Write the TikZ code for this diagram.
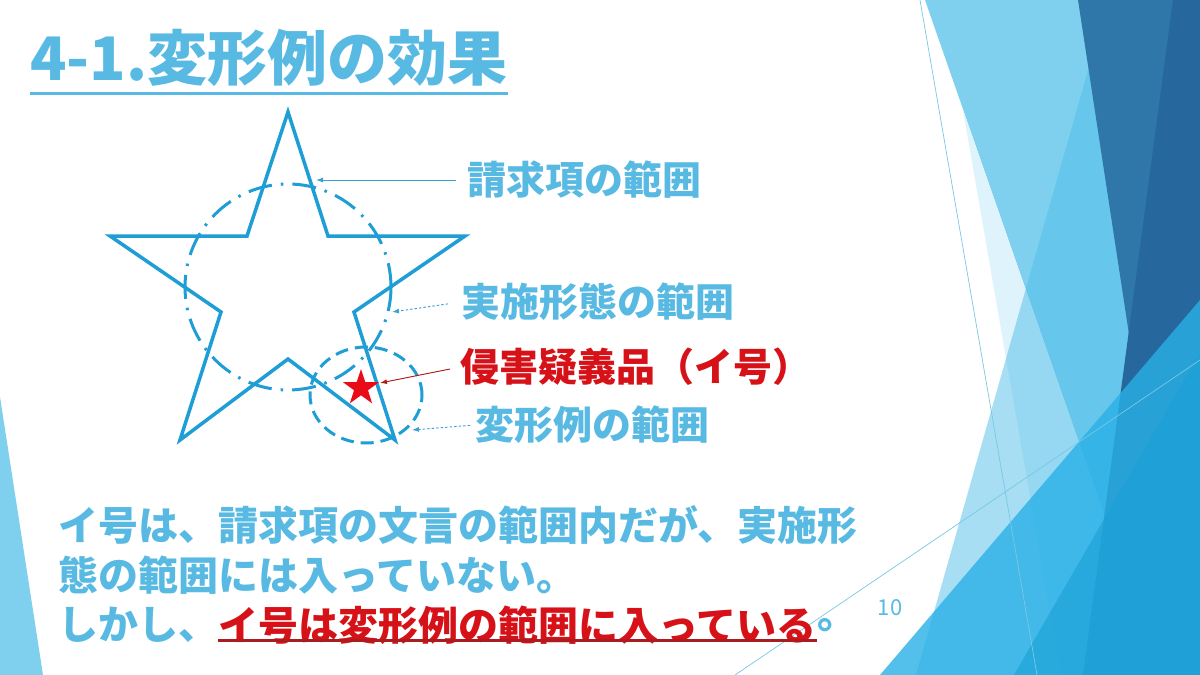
\documentclass[tikz,border=0pt]{standalone}
\usepackage{fontspec}
\setmainfont{Noto Sans CJK JP}
\usetikzlibrary{positioning,calc,arrows.meta,shapes.geometric}

\definecolor{skyText}{RGB}{88,186,226}
\definecolor{starBlue}{RGB}{30,158,212}
\definecolor{leadBlue}{RGB}{60,160,210}
\definecolor{redText}{RGB}{214,18,24}
\definecolor{redMark}{RGB}{232,12,22}
\definecolor{redLine}{RGB}{170,28,30}
\definecolor{facetLight}{RGB}{127,208,239}
\definecolor{facetPale}{RGB}{222,243,251}
\definecolor{facetMid}{RGB}{80,190,235}
\definecolor{facetDark}{RGB}{46,119,168}
\definecolor{facetDeep}{RGB}{38,104,158}
\definecolor{facetTri}{RGB}{41,176,230}
\definecolor{facetBright}{RGB}{25,160,215}
\definecolor{facetLine}{RGB}{120,200,228}

\begin{document}
\begin{tikzpicture}[x=1pt,y=-1pt,
      hair/.style={facetLine, line width=0.7pt},
      heading/.style={font=\fontsize{60}{68}\selectfont\bfseries, text=skyText,
         inner sep=0pt, anchor=west},
      rangelabel/.style={font=\fontsize{39}{46}\selectfont\bfseries, text=skyText,
         inner sep=0pt, anchor=west},
      para/.style={font=\fontsize{40}{48}\selectfont\bfseries, text=skyText,
         inner sep=0pt, anchor=west},
      lead/.style={leadBlue, line width=0.9pt, -{Latex[length=7pt,width=5pt]}},
      dotlead/.style={lead, dash pattern=on 2.5pt off 2pt},
      starline/.style={starBlue, line width=3.5pt, line join=miter},
      embline/.style={starBlue, line width=3pt,
         dash pattern=on 24pt off 9pt on 2.5pt off 9pt},
      modline/.style={starBlue, line width=3pt, dash pattern=on 13pt off 7pt}]

   \useasboundingbox (0,0) rectangle (1200,675);
   \fill[white] (0,0) rectangle (1200,675);

   % facets on the right
   \fill[facetLight] (925,0) -- (1200,0) -- (1200,675) -- (1160,675) -- cycle;
   \fill[facetPale] (963,110) -- (1160,675) -- (1061,675) -- cycle;
   \fill[facetMid, opacity=0.5] (1108,0) -- (1200,0) -- (1200,675) -- (916,675) -- cycle;
   \fill[facetDark] (1078,0) -- (1200,0) -- (1200,675) -- (1181,675) -- cycle;
   \fill[facetDeep] (1173,0) -- (1200,0) -- (1200,675) -- (1083,675) -- cycle;
   \fill[facetTri, opacity=0.8] (880,675) -- (1200,300) -- (1200,675) -- cycle;
   \fill[facetBright, opacity=0.6] (1014,675) -- (1200,353) -- (1200,675) -- cycle;
   \draw[hair] (920,0) -- (1037,675);
   \draw[hair] (735,675) -- (1200,360);

   % facet on the left
   \fill[facetLight] (0,397) -- (43,675) -- (0,675) -- cycle;

   % title
   \node[heading] (title) at (30,58) {4-1.変形例の効果};
   \draw[skyText, line width=3pt] ($(title.south west)+(0,7)$) -- ($(title.south east)+(0,7)$);

   % scope of the claim
   \draw[starline] (288,112) -- (328,236) -- (465,236) -- (354,312) -- (395,440)
      -- (288,359) -- (180,440) -- (221,312) -- (110,236) -- (247,236) -- cycle;

   % scope of the embodiment
   \draw[embline] (288,287) circle[radius=103pt];

   % scope of the modification
   \draw[modline] (366,395) ellipse[x radius=56pt, y radius=48pt];

   % accused product
   \node[star, star points=5, star point ratio=2.6, fill=redMark, inner sep=0pt,
      minimum size=38pt] (suspect) at (361,388) {};

   % labels
   \node[rangelabel] (claim) at (467,180) {請求項の範囲};
   \node[rangelabel, below=122pt of claim.west, anchor=west, xshift=-6pt] (emb) {実施形態の範囲};
   \node[rangelabel, text=redText, below=65pt of emb.west, anchor=west, xshift=-1pt] (accused) {侵害疑義品（イ号）};
   \node[rangelabel, below=58pt of accused.west, anchor=west, xshift=15pt] (mod) {変形例の範囲};

   \coordinate (claimtip) at (316,180);
   \coordinate (embtip) at (392,312);
   \coordinate (accusedtip) at (380,383);
   \coordinate (modtip) at (412,430);

   \draw[lead, shorten <=11pt] (claim.west) -- (claimtip);
   \draw[dotlead, shorten <=13pt] (emb.west) -- (embtip);
   \draw[lead, redLine, shorten <=10pt] (accused.west) -- (accusedtip);
   \draw[dotlead, shorten <=5pt] (mod.west) -- (modtip);

   % conclusion
   \node[para] (line1) at (58,525) {イ号は、請求項の文言の範囲内だが、実施形};
   \node[para, below=50pt of line1.west, anchor=west] (line2) {態の範囲には入っていない。};
   \node[para, below=50pt of line2.west, anchor=west] (line3) {しかし、};
   \node[para, text=redText, right=0pt of line3] (keypoint) {イ号は変形例の範囲に入っている};
   \node[para, right=0pt of keypoint] (stop) {。};
   \draw[redLine, line width=2.5pt] ($(keypoint.south west)+(0,-4)$) -- ($(keypoint.south east)+(0,-4)$);

   % page number
   \node[font=\fontsize{22}{26}\selectfont, text=skyText, inner sep=0pt] (pageno) at (890,608) {10};
\end{tikzpicture}
\end{document}
